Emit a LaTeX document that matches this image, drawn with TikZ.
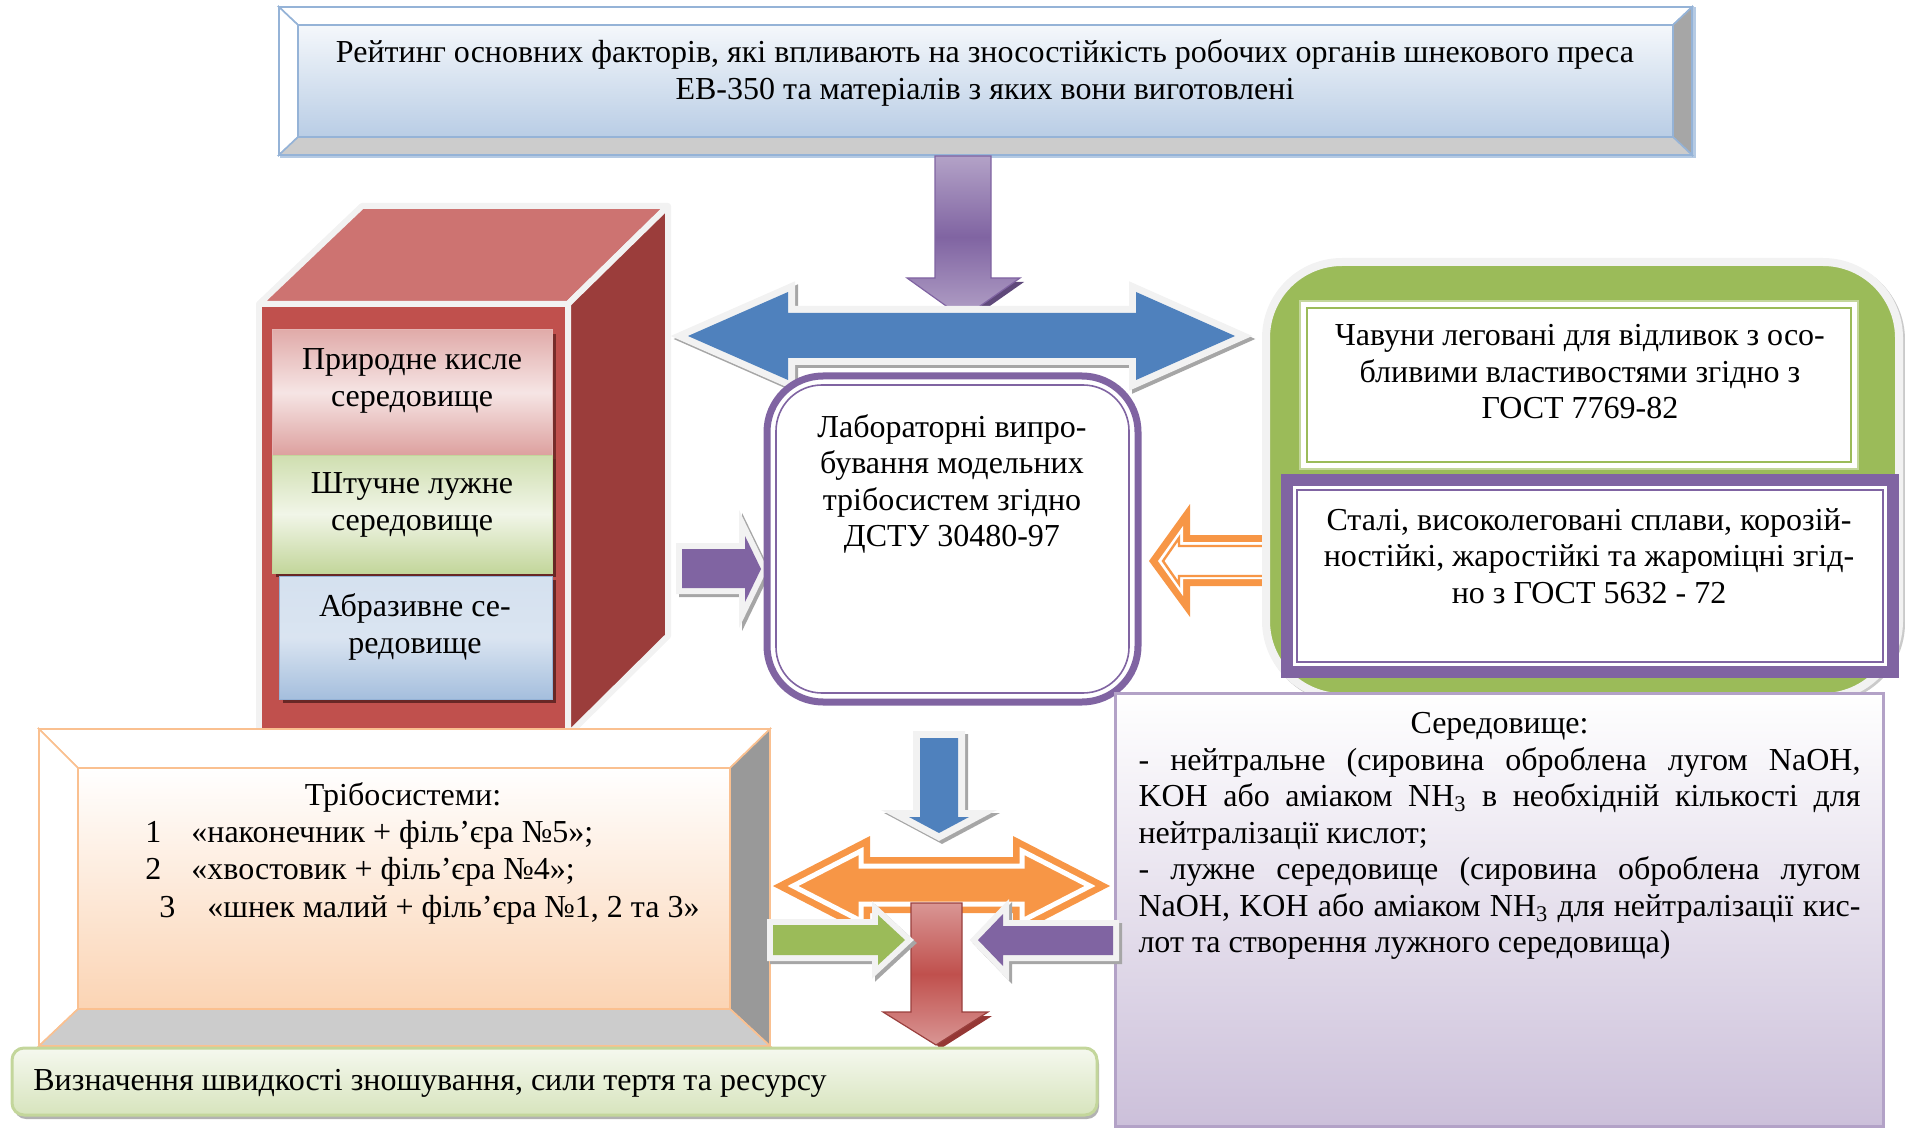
\documentclass[tikz,border=0pt]{standalone}
\usepackage{fontspec}
\setmainfont{Liberation Serif}
\definecolor{blueA}{HTML}{4F81BD}
\definecolor{blueL}{HTML}{95B3D7}
\definecolor{blueF}{HTML}{B9CDE5}
\definecolor{purpleA}{HTML}{8064A2}
\definecolor{purpleL}{HTML}{B3A2C7}
\definecolor{purpleD}{HTML}{5F497A}
\definecolor{purpleF}{HTML}{CCC0DA}
\definecolor{redA}{HTML}{C0504D}
\definecolor{redL}{HTML}{D99694}
\definecolor{redD}{HTML}{953735}
\definecolor{redTop}{HTML}{CD7371}
\definecolor{redSide}{HTML}{9B3D3B}
\definecolor{greenA}{HTML}{9BBB59}
\definecolor{greenL}{HTML}{C3D69B}
\definecolor{greenF}{HTML}{D7E4BD}
\definecolor{orangeA}{HTML}{F79646}
\definecolor{orangeL}{HTML}{FAC090}
\definecolor{orangeF}{HTML}{FBD4B4}
\definecolor{bordw}{HTML}{F2F2F2}
\definecolor{shgray}{HTML}{A6A6A6}
\newcommand{\fs}{\fontsize{16}{18.25}\selectfont}
\begin{document}
\begin{tikzpicture}[x=0.5pt,y=-0.5pt,
  tx/.style={font=\fs, inner sep=0pt, align=center},
  lx/.style={font=\fs, inner sep=0pt, anchor=west, text height=11pt, text depth=3pt},
  abord/.style={preaction={draw=shgray, line width=#1, line join=miter, transform canvas={shift={(1.5pt,-1.5pt)}}},
                preaction={draw=bordw, line width=#1, line join=miter}},
  bev/.style={draw=#1, line width=0.8pt, line join=miter}]
\useasboundingbox (0,0) rectangle (1905,1128);

% ---------- top bevel box ----------
\draw[blueL!70!white, line width=1.5pt] (281,9) rectangle (1694,157);
\fill[white] (279,7) rectangle (1692,155);
\filldraw[fill=white, bev=blueL] (279,7)--(1692,7)--(1673,25)--(298,25)--cycle;
\filldraw[fill=white, bev=blueL] (279,7)--(298,25)--(298,137)--(279,155)--cycle;
\filldraw[fill=shgray, bev=blueL] (1692,7)--(1692,155)--(1673,137)--(1673,25)--cycle;
\filldraw[fill=black!20, bev=blueL] (279,155)--(298,137)--(1673,137)--(1692,155)--cycle;
\path[top color=blueF!15!white, bottom color=blueF, draw=blueL, line width=0.8pt] (298,25) rectangle (1673,137);
\node[tx] (title) at (985,73) {Рейтинг основних факторів, які впливають на зносостійкість робочих органів шнекового преса\\ЕВ-350 та матеріалів з яких вони виготовлені};

% ---------- purple arrow from top ----------
\coordinate (ptop) at (963,156);
\fill[purpleD] (939,282)--(1024,282)--(967,322)--cycle;
\path[top color=purpleL, bottom color=purpleL, middle color=purpleA, draw=purpleA, line width=0.6pt]
  (935,156)--(991,156)--(991,278)--(1020,278)--(963,318)--(907,278)--(935,278)--cycle;

% ---------- blue double arrow ----------
\path[abord=7pt, fill=blueA] (688,336)--(788,292)--(788,313)--(1136,313)--(1136,292)--(1235,336)
  --(1136,380)--(1136,358)--(788,358)--(788,380)--cycle;

% ---------- red cube ----------
\begin{scope}[line width=3pt, line join=round, draw=bordw]
\filldraw[fill=redA] (259,304) rectangle (568,735);
\filldraw[fill=redTop] (259,304)--(568,304)--(668,206)--(362,206)--cycle;
\filldraw[fill=redSide] (568,304)--(668,206)--(668,636)--(568,735)--cycle;
\end{scope}
\fill[redD!80!black] (276,334) rectangle (556,459);
\path[top color=redL!80!white, bottom color=redL!90!white, middle color=redL!25!white, draw=redL!70!white, line width=0.5pt] (272,330) rectangle (552,455);
\fill[redD!70!black] (276,459) rectangle (556,577);
\path[top color=greenL!80!white, bottom color=greenL, middle color=greenF!35!white, draw=greenL, line width=0.5pt] (272,455) rectangle (552,573);
\fill[redD!70!black] (283,580) rectangle (556,703);
\path[top color=blueL!40!white, bottom color=blueL!85!white, middle color=blueL!35!white, draw=blueL, line width=0.5pt] (279,576) rectangle (552,699);
\node[tx] (acid) at (412,381) {Природне кисле\\середовище};
\node[tx] (alk) at (412,505) {Штучне лужне\\середовище};
\node[tx] (abr) at (415,627) {Абразивне се-\\редовище};

% ---------- purple arrow into centre box ----------
\path[abord=6pt, fill=purpleA] (682,549)--(745,549)--(745,536)--(761,569)--(745,602)--(745,588)--(682,588)--cycle;

% ---------- centre box ----------
\draw[purpleA, line width=3.5pt, fill=white, rounded corners=28pt] (767,376) rectangle (1138,702);
\draw[purpleA, line width=0.8pt, rounded corners=23pt] (776,385) rectangle (1129,693);
\node[tx] (lab) at (952,484) {Лабораторні випро-\\бування модельних\\трібосистем згідно\\ДСТУ 30480-97};

% ---------- orange left arrow ----------
\fill[orangeA] (1149,561)--(1190,504)--(1190,535)--(1275,535)--(1275,586)--(1190,586)--(1190,617)--cycle;
\fill[white] (1158,561)--(1183,526)--(1183,542)--(1275,542)--(1275,579)--(1183,579)--(1183,596)--cycle;
\draw[orangeA, line width=1.2pt, line join=miter] (1163,561)--(1179,538)--(1179,546)--(1275,546)--(1275,576)--(1179,576)--(1179,584)--cycle;

% ---------- green box with materials ----------
\draw[draw=shgray!60!white, line width=4pt, rounded corners=38pt] (1268,264) rectangle (1901,699);
\draw[draw=bordw, line width=4pt, fill=greenA, rounded corners=38pt] (1266,262) rectangle (1899,697);
\draw[greenL, line width=1pt, fill=white] (1300,301) rectangle (1858,469);
\draw[greenA, line width=1pt] (1307,308) rectangle (1851,462);
\draw[purpleA, line width=6pt, fill=white] (1287,480) rectangle (1893,672);
\draw[purpleA, line width=0.8pt] (1297,490) rectangle (1883,662);
\node[tx] (iron) at (1580,372) {Чавуни леговані для відливок з осо-\\бливими властивостями згідно з\\ГОСТ 7769-82};
\node[tx] (steel) at (1589,556) {Сталі, високолеговані сплави, корозій-\\ностійкі, жаростійкі та жароміцні згід-\\но з ГОСТ 5632 - 72};

% ---------- environment box ----------
\path[top color=white, bottom color=purpleF, draw=purpleL, line width=1.5pt] (1115,693) rectangle (1883,1126);
\node[font=\fs, inner sep=0pt, align=left] (env) at (1499.5,836) {%
\makebox[361pt][c]{Середовище:}\\
\makebox[361pt][s]{- нейтральне (сировина оброблена лугом NaOH,}\\
\makebox[361pt][s]{KOH або аміаком NH\textsubscript{3} в необхідній кількості для}\\
\makebox[361pt][l]{нейтралізації кислот;}\\
\makebox[361pt][s]{- лужне середовище (сировина оброблена лугом}\\
\makebox[361pt][s]{NaOH, KOH або аміаком NH\textsubscript{3} для нейтралізації кис-}\\
\makebox[361pt][l]{лот та створення лужного середовища)}};

% ---------- tribosystems bevel box ----------
\fill[white] (39,729) rectangle (770,1046);
\filldraw[fill=white, bev=orangeL] (39,729)--(770,729)--(730,768)--(78,768)--cycle;
\filldraw[fill=white, bev=orangeL] (39,729)--(78,768)--(78,1009)--(39,1046)--cycle;
\filldraw[fill=black!40, bev=orangeL] (770,729)--(770,1046)--(730,1009)--(730,768)--cycle;
\filldraw[fill=black!20, bev=orangeL] (39,1046)--(78,1009)--(730,1009)--(770,1046)--cycle;
\path[top color=white, bottom color=orangeF, draw=orangeL, line width=0.8pt] (78,768) rectangle (730,1009);
\node[tx] (tribt) at (403,797) {Трібосистеми:};
\node[lx] (n1) at (145,834) {1};
\node[lx] (t1) at (191,834) {«наконечник + філь’єра №5»;};
\node[lx] (n2) at (145,871) {2};
\node[lx] (t2) at (191,871) {«хвостовик + філь’єра №4»;};
\node[lx] (n3) at (159,909) {3};
\node[lx] (t3) at (207,909) {«шнек малий + філь’єра №1, 2 та 3»};

% ---------- centre bottom arrows ----------
\fill[orangeA] (773,886)--(870,836)--(870,857)--(1013,857)--(1013,836)--(1110,886)--(1013,936)--(1013,913)--(870,913)--(870,936)--cycle;
\draw[white, line width=2.5pt, line join=miter] (793,886)--(861,851)--(861,866)--(1022,866)--(1022,851)--(1090,886)--(1022,921)--(1022,904)--(861,904)--(861,921)--cycle;
\path[abord=7pt, fill=blueA] (920,738)--(958,738)--(958,817)--(969,817)--(939,833)--(909,817)--(920,817)--cycle;
\fill[redD] (915,1016)--(992,1016)--(940,1049)--cycle;
\path[top color=redL, bottom color=redL, middle color=redA, draw=redA!80!black, line width=0.6pt]
  (911,903)--(962,903)--(962,1012)--(988,1012)--(936,1045)--(883,1012)--(911,1012)--cycle;
\path[abord=6pt, fill=greenA] (773,925)--(878,925)--(878,915)--(905,940)--(878,965)--(878,955)--(773,955)--cycle;
\path[abord=6pt, fill=purpleA] (1113,926)--(1003,926)--(1003,914)--(978,940)--(1003,966)--(1003,955)--(1113,955)--cycle;

% ---------- bottom result box ----------
\fill[black!30, rounded corners=6pt] (14,1052) rectangle (1099,1119);
\path[top color=greenF!25!white, bottom color=greenF, draw=greenL, line width=1.5pt, rounded corners=6pt] (12,1048) rectangle (1097,1115);
\node[lx] (res) at (33,1082) {Визначення швидкості зношування, сили тертя та ресурсу};
\end{tikzpicture}
\end{document}
